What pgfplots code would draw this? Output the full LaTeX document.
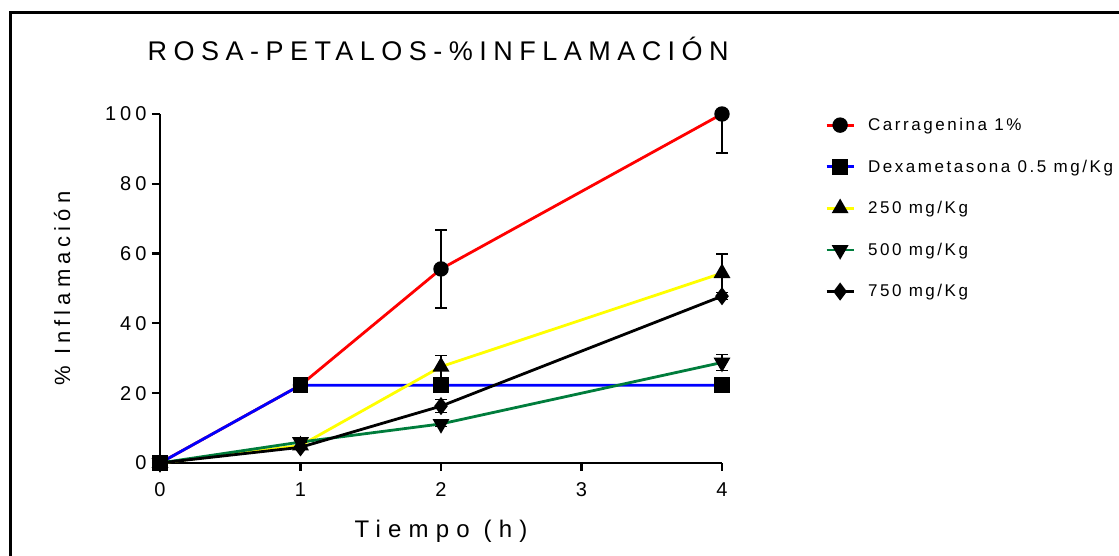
\documentclass[border=0pt]{standalone}
\usepackage{fontspec}
\setmainfont{Liberation Sans}
\newfontfamily\titlefont{Liberation Sans}[LetterSpace=24]
\newfontfamily\tickfont{Liberation Sans}[LetterSpace=20]
\newfontfamily\labfont{Liberation Sans}[LetterSpace=30]
\newfontfamily\ylabfont{Liberation Sans}[LetterSpace=23]
\newfontfamily\legfont{Liberation Sans}[LetterSpace=15]
\usepackage{pgfplots}
\pgfplotsset{compat=1.18}
\definecolor{cred}{RGB}{255,0,0}
\definecolor{cblue}{RGB}{0,0,255}
\definecolor{cyellow}{RGB}{255,255,0}
\definecolor{cgreen}{RGB}{0,125,60}
\begin{document}
\begin{tikzpicture}
\useasboundingbox (-160pt,-93pt) rectangle (959pt,463pt);
\begin{axis}[
  anchor=origin, at={(0pt,0pt)},
  scale only axis, width=562pt, height=349pt,
  xmin=0, xmax=4, ymin=0, ymax=100,
  clip=false,
  axis lines=left,
  axis line style={-, line width=2.2pt, black},
  xtick={0,1,2,3,4}, ytick={0,20,40,60,80,100},
  tick style={line width=2.2pt, black},
  tick align=outside,
  major tick length=8pt,
  /pgf/number format/assume math mode=true,
  tick label style={font=\tickfont\fontsize{20}{22}\selectfont},
  xticklabel style={yshift=-8pt},
  yticklabel style={xshift=-2pt},
  title={\titlefont\fontsize{27}{30}\selectfont ROSA-PETALOS-\%INFLAMACIÓN},
  title style={at={(0.495,1)}, anchor=south, yshift=44pt},
  xlabel={\labfont\fontsize{24}{28}\selectfont Tiempo (h)},
  xlabel style={yshift=-17pt},
  ylabel={\ylabfont\fontsize{22}{26}\selectfont \% Inflamación},
  ylabel style={yshift=28pt},
  legend style={at={(1.178,1.0)}, anchor=north west, draw=none, fill=none,
    font=\legfont\fontsize{17}{19}\selectfont, row sep=23.8pt,
    legend cell align=left},
  legend image code/.code={\draw[mark repeat=2,mark phase=2] plot coordinates {(0pt,0pt) (13.5pt,0pt) (27pt,0pt)}; \path (38pt,0pt);},
  every axis plot/.append style={line width=2.8pt},
  error bars/y dir=both, error bars/y explicit,
  error bars/error bar style={black, line width=1.3pt},
  error bars/error mark options={rotate=90, black, mark size=6pt, line width=1.3pt},
]
\addplot[cred, mark=*, mark size=6.3pt, mark options={black, fill=black}]
  coordinates {(0,0) +- (0,0) (1,22.3) +- (0,0) (2,55.6) +- (0,11.2) (4,100) += (0,0) -= (0,11.2)};
\addlegendentry{Carragenina 1\%}
\addplot[cblue, mark=square*, mark size=6.5pt, mark options={black, fill=black}]
  coordinates {(0,0) +- (0,0) (1,22.3) +- (0,0) (2,22.3) +- (0,0) (4,22.3) +- (0,0)};
\addlegendentry{Dexametasona 0.5 mg/Kg}
\addplot[cyellow, mark=triangle*, mark size=7pt, mark options={black, fill=black}]
  coordinates {(0,0) +- (0,0) (1,5.0) +- (0,0) (2,27.6) +- (0,3.3) (4,54.4) +- (0,5.5)};
\addlegendentry{250 mg/Kg}
\addplot[cgreen, mark=triangle*, mark size=7pt, mark options={black, fill=black, rotate=180}]
  coordinates {(0,0) +- (0,0) (1,6.0) +- (0,0) (2,11.2) +- (0,0.8) (4,28.8) +- (0,2.2)};
\addlegendentry{500 mg/Kg}
\addplot[black, mark=diamond*, mark size=6.8pt, mark options={black, fill=black}]
  coordinates {(0,0) +- (0,0) (1,4.5) +- (0,0) (2,16.3) +- (0,1.8) (4,47.8) +- (0,1.0)};
\addlegendentry{750 mg/Kg}
\end{axis}
\draw[line width=3pt] (-149.5pt,-95pt) -- (-149.5pt,450.5pt) -- (962pt,450.5pt);
\end{tikzpicture}
\end{document}
